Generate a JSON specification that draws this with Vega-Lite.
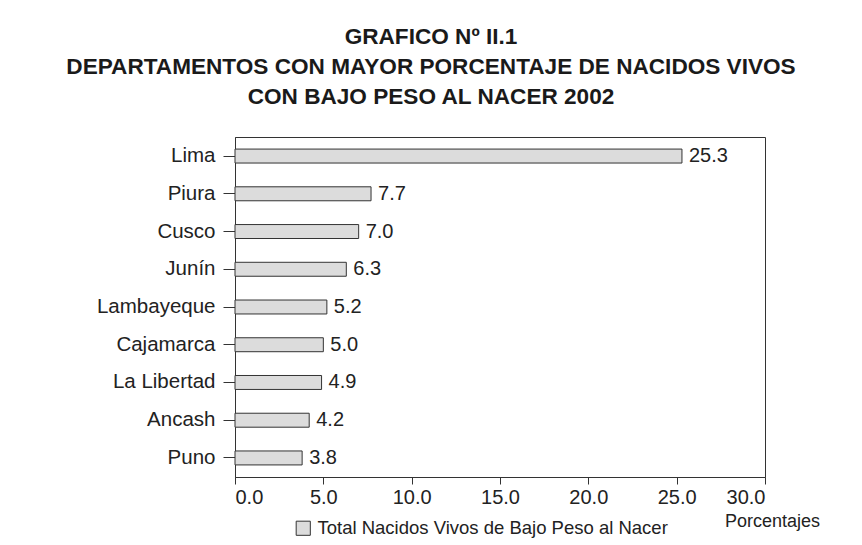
{
  "$schema": "https://vega.github.io/schema/vega-lite/v6.json",
  "width": 530,
  "height": 340,
  "autosize": {"type": "none"},
  "padding": {"left": 235, "top": 137, "right": 97, "bottom": 68},
  "background": "white",
  "title": {
    "text": ["GRAFICO Nº II.1", "DEPARTAMENTOS CON MAYOR PORCENTAJE DE NACIDOS VIVOS", "CON BAJO PESO AL NACER 2002"],
    "font": "Liberation Sans",
    "fontSize": 22.6,
    "fontWeight": "bold",
    "color": "#1a1a1a",
    "lineHeight": 30,
    "anchor": "middle",
    "dx": -69,
    "offset": 28
  },
  "config": {
    "view": {"stroke": "#333333", "strokeWidth": 1},
    "font": "Liberation Sans",
    "axis": {"grid": false, "domainColor": "#333333", "tickColor": "#333333", "labelColor": "#222222", "labelFont": "Liberation Sans", "titleFont": "Liberation Sans"}
  },
  "data": {
    "values": [
      {"dep": "Lima", "pct": 25.3, "serie": "Total Nacidos Vivos de Bajo Peso al Nacer"},
      {"dep": "Piura", "pct": 7.7, "serie": "Total Nacidos Vivos de Bajo Peso al Nacer"},
      {"dep": "Cusco", "pct": 7.0, "serie": "Total Nacidos Vivos de Bajo Peso al Nacer"},
      {"dep": "Junín", "pct": 6.3, "serie": "Total Nacidos Vivos de Bajo Peso al Nacer"},
      {"dep": "Lambayeque", "pct": 5.2, "serie": "Total Nacidos Vivos de Bajo Peso al Nacer"},
      {"dep": "Cajamarca", "pct": 5.0, "serie": "Total Nacidos Vivos de Bajo Peso al Nacer"},
      {"dep": "La Libertad", "pct": 4.9, "serie": "Total Nacidos Vivos de Bajo Peso al Nacer"},
      {"dep": "Ancash", "pct": 4.2, "serie": "Total Nacidos Vivos de Bajo Peso al Nacer"},
      {"dep": "Puno", "pct": 3.8, "serie": "Total Nacidos Vivos de Bajo Peso al Nacer"}
    ]
  },
  "encoding": {
    "y": {
      "field": "dep",
      "type": "nominal",
      "sort": null,
      "scale": {"paddingInner": 0.63, "paddingOuter": 0.32},
      "axis": {"title": null, "labelFontSize": 20.5, "tickSize": 12, "labelPadding": 8, "domainColor": "#333333"}
    },
    "x": {
      "field": "pct",
      "type": "quantitative",
      "scale": {"domain": [0, 30], "nice": false},
      "axis": {
        "values": [0, 5, 10, 15, 20, 25, 30],
        "format": ".1f",
        "labelFontSize": 20,
        "tickSize": 7,
        "labelPadding": 3,
        "title": "Porcentajes",
        "titleFontSize": 18,
        "titleFontWeight": "normal",
        "titleColor": "#222222",
        "titleX": 537,
        "titleY": 44,
        "titleBaseline": "middle",
        "titleAlign": "center"
      }
    }
  },
  "layer": [
    {
      "mark": {"type": "bar", "stroke": "#333333", "strokeWidth": 1},
      "encoding": {
        "color": {
          "field": "serie",
          "type": "nominal",
          "scale": {"range": ["#dcdcdc"]},
          "legend": {
            "title": null,
            "orient": "none",
            "legendX": 59,
            "legendY": 382,
            "symbolType": "square",
            "symbolSize": 200,
            "symbolStrokeColor": "#333333",
            "symbolStrokeWidth": 1,
            "labelFontSize": 18.5,
            "labelColor": "#222222",
            "labelFont": "Liberation Sans",
            "labelLimit": 600,
            "labelOffset": 5
          }
        }
      }
    },
    {
      "mark": {"type": "text", "align": "left", "dx": 7, "fontSize": 20, "color": "#222222", "font": "Liberation Sans"},
      "encoding": {"text": {"field": "pct", "type": "quantitative", "format": ".1f"}}
    }
  ]
}
